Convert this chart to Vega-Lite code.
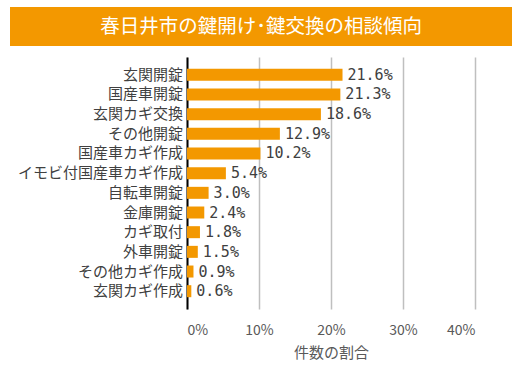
{
  "$schema": "https://vega.github.io/schema/vega-lite/v6.json",
  "padding": {"left": 10, "top": 7, "right": 0, "bottom": 0},
  "background": "white",
  "spacing": 11,
  "config": {"font": "Noto Sans CJK JP"},
  "datasets": {
    "title": [{"t": "春日井市の鍵開け･鍵交換の相談傾向"}],
    "d": [
      {"item": "玄関開錠", "pct": 0.216},
      {"item": "国産車開錠", "pct": 0.213},
      {"item": "玄関カギ交換", "pct": 0.186},
      {"item": "その他開錠", "pct": 0.129},
      {"item": "国産車カギ作成", "pct": 0.102},
      {"item": "イモビ付国産車カギ作成", "pct": 0.054},
      {"item": "自転車開錠", "pct": 0.030},
      {"item": "金庫開錠", "pct": 0.024},
      {"item": "カギ取付", "pct": 0.018},
      {"item": "外車開錠", "pct": 0.015},
      {"item": "その他カギ作成", "pct": 0.009},
      {"item": "玄関カギ作成", "pct": 0.006}
    ]
  },
  "vconcat": [
    {
      "data": {"name": "title"},
      "width": 502,
      "height": 39,
      "view": {"fill": "#F39800", "stroke": null},
      "mark": {"type": "text", "color": "white", "fontSize": 19.5, "align": "center", "baseline": "middle"},
      "encoding": {"text": {"field": "t", "type": "nominal"}}
    },
    {
      "spacing": 4,
      "hconcat": [
        {
          "data": {"name": "d"},
          "width": 173,
          "height": 252,
          "view": {"stroke": null},
          "mark": {"type": "text", "align": "right", "baseline": "middle", "fontSize": 15, "color": "#404040"},
          "encoding": {
            "x": {"value": "width"},
            "y": {
              "field": "item",
              "type": "nominal",
              "sort": null,
              "bandPosition": 0.5,
              "scale": {"type": "band", "paddingInner": 0.39, "paddingOuter": 0.6},
              "axis": null
            },
            "text": {"field": "item", "type": "nominal"}
          }
        },
        {
          "data": {"name": "d"},
          "width": 288,
          "height": 252,
          "view": {"stroke": null},
          "encoding": {
            "y": {
              "field": "item",
              "type": "nominal",
              "sort": null,
              "scale": {"type": "band", "paddingInner": 0.39, "paddingOuter": 0.6},
              "axis": {
                "title": null,
                "ticks": false,
                "labels": false,
                "domainColor": "black",
                "domainWidth": 2
              }
            }
          },
          "layer": [
            {
              "mark": {"type": "bar", "color": "#F39800"},
              "encoding": {
                "x": {
                  "field": "pct",
                  "type": "quantitative",
                  "scale": {"domain": [0, 0.4]},
                  "axis": {
                    "values": [0, 0.1, 0.2, 0.3, 0.4],
                    "format": ".0%",
                    "grid": true,
                    "gridColor": "#BFBFBF",
                    "gridWidth": 1.5,
                    "domain": false,
                    "ticks": false,
                    "labelPadding": 14,
                    "labelFontSize": 14,
                    "labelColor": "#595959",
                    "title": "件数の割合",
                    "titleFontSize": 15,
                    "titleFontWeight": "normal",
                    "titleColor": "#595959",
                    "titlePadding": 8
                  }
                }
              }
            },
            {
              "mark": {"type": "text", "align": "left", "baseline": "middle", "dx": 5, "font": "DejaVu Sans Mono", "fontSize": 15, "color": "#404040"},
              "encoding": {
                "x": {"field": "pct", "type": "quantitative"},
                "text": {"field": "pct", "type": "quantitative", "format": ".1%"}
              }
            }
          ]
        }
      ]
    }
  ]
}
